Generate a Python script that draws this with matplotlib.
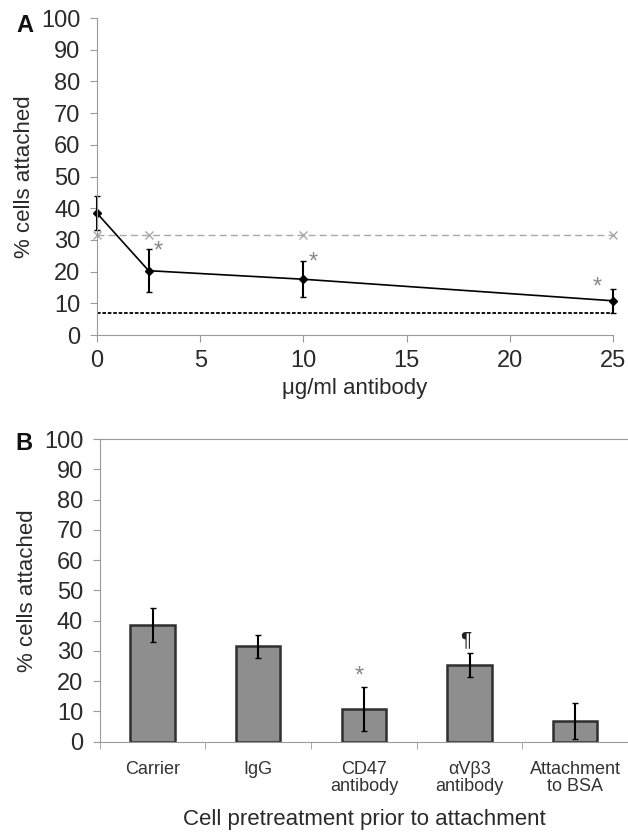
import numpy as np
import matplotlib.pyplot as plt
from matplotlib.ticker import FixedLocator

plt.rcParams['font.family'] = ['Liberation Sans', 'DejaVu Sans']

# panel A data
dose = [0, 2.5, 10, 25]
attached = [38.4, 20.3, 17.6, 10.8]
attached_err = [5.4, 6.7, 5.7, 3.7]
igg_level = [31.6, 31.6, 31.6, 31.6]
bsa_level = 7.0

# panel B data
groups = ['Carrier', 'IgG', 'CD47\nantibody', 'αVβ3\nantibody', 'Attachment\nto BSA']
means = [38.5, 31.6, 10.7, 25.3, 6.8]
errs = [5.6, 3.8, 7.2, 4.1, 5.9]
marks = ['', '', '*', '¶', '']

axcol = '#9a9a9a'
txtcol = '#2a2a2a'

fig = plt.figure(figsize=(6.28, 8.38), dpi=100)

# ---- A ----
ax = fig.add_axes([0.1545, 0.6002, 0.8217, 0.3783])
ax.plot([0, 25], [bsa_level, bsa_level], color='black', linestyle=(0, (2, 1)), linewidth=1.3)
ax.plot(dose, igg_level, color='#a8a8a8', linestyle=(0, (5, 3)), linewidth=1,
        marker='x', markersize=6, clip_on=False)
ax.errorbar(dose, attached, yerr=attached_err, color='black', linewidth=1.2,
            marker='D', markersize=4, capsize=2, elinewidth=1.5, clip_on=False)
ax.text(2.5 + 0.25, 24.5, '*', color='#888888', fontsize=17)
ax.text(10 + 0.25, 21.0, '*', color='#888888', fontsize=17)
ax.text(25 - 1.0, 13.0, '*', color='#888888', fontsize=17)

ax.set_xlim(0, 25)
ax.set_ylim(0, 100)
ax.set_xticks([0, 5, 10, 15, 20, 25])
ax.set_yticks(range(0, 101, 10))
for s in ['top', 'right']:
    ax.spines[s].set_visible(False)
for s in ['left', 'bottom']:
    ax.spines[s].set_color(axcol)
ax.tick_params(colors=axcol, labelcolor=txtcol, labelsize=17, length=5)
ax.tick_params(axis='y', pad=7)
ax.tick_params(axis='x', pad=6)
ax.set_xlabel('μg/ml antibody', fontsize=16, color=txtcol, labelpad=4)
ax.set_ylabel('% cells attached', fontsize=16, color=txtcol, labelpad=4)
fig.text(0.026, 0.962, 'A', fontsize=17, fontweight='bold', color='#111111')

# ---- B ----
bx = fig.add_axes([0.159, 0.115, 0.841, 0.3611])
pos = np.arange(len(groups))
bx.bar(pos, means, width=0.42, color='#8e8e8e', edgecolor='#2f2f2f', linewidth=1.8)
bx.errorbar(pos, means, yerr=errs, fmt='none', ecolor='black', elinewidth=1.5, capsize=2)
for p, m, e, t in zip(pos, means, errs, marks):
    if t == '*':
        bx.text(p - 0.04, m + e + 1.5, t, ha='center', color='#888888', fontsize=17)
    elif t:
        bx.text(p - 0.04, m + e + 2.5, t, ha='center', color='#222222', fontsize=15)

bx.set_xlim(-0.5, 4.5)
bx.set_ylim(0, 100)
bx.set_yticks(range(0, 101, 10))
bx.set_xticks(pos)
bx.set_xticklabels(groups, fontsize=13, color='#333333', linespacing=1.0)
bx.xaxis.set_minor_locator(FixedLocator(np.arange(-0.5, 4.6, 1)))
bx.tick_params(axis='x', which='major', length=0, pad=14)
bx.tick_params(axis='x', which='minor', length=5, color=axcol)
bx.tick_params(axis='y', colors=axcol, labelcolor=txtcol, labelsize=17, length=5, pad=7)
bx.spines['right'].set_visible(False)
for s in ['left', 'bottom', 'top']:
    bx.spines[s].set_color(axcol)
bx.set_xlabel('Cell pretreatment prior to attachment', fontsize=16, color=txtcol, labelpad=10)
bx.set_ylabel('% cells attached', fontsize=16, color=txtcol, labelpad=4)
fig.text(0.024, 0.463, 'B', fontsize=17, fontweight='bold', color='#111111')

fig.savefig('out.png', dpi=100)
